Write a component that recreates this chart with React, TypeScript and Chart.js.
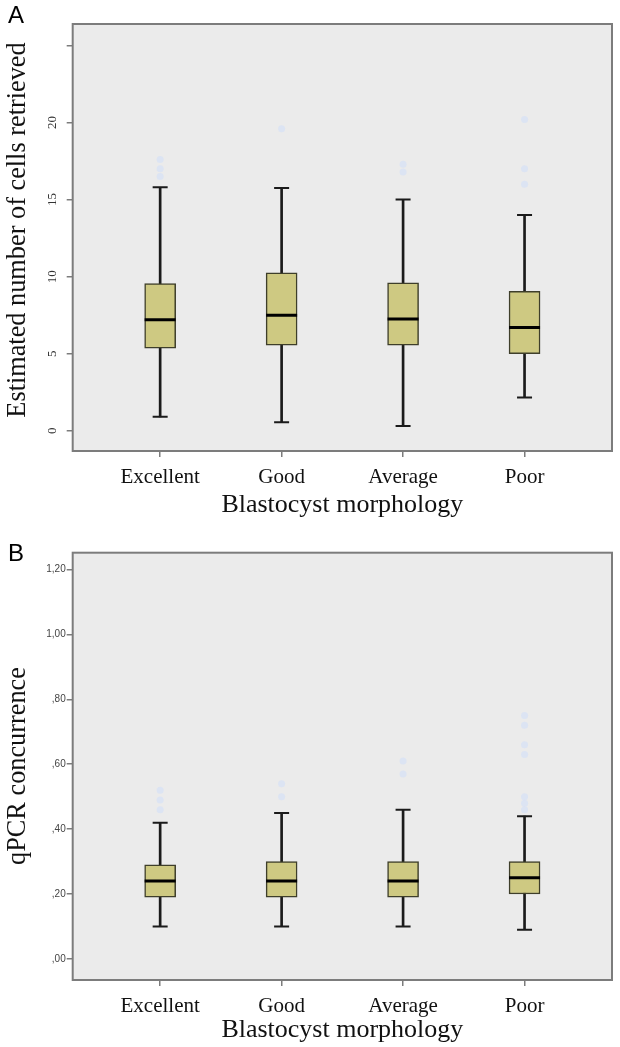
import React, { useEffect, useRef } from 'react';
import { Chart, registerables } from 'chart.js';

Chart.register(...registerables);

// ---------- data ----------
const categories = ['Excellent', 'Good', 'Average', 'Poor'];
const categoryPositions = [0, 1, 2, 3];

// Panel A: Estimated number of cells retrieved
const cellsMin = [0.9, 0.55, 0.3, 2.15];
const cellsQ1 = [5.35, 5.55, 5.55, 5.0];
const cellsMedian = [7.2, 7.5, 7.25, 6.7];
const cellsQ3 = [9.55, 10.25, 9.6, 9.05];
const cellsMax = [15.8, 15.75, 15.0, 14.0];
const cellsOutliers = [[16.5, 17.0, 17.6], [19.6], [16.8, 17.3], [16.0, 17.0, 20.2]];
const cellsTicks = [0, 5, 10, 15, 20, 25];
const cellsTickLabels = ['0', '5', '10', '15', '20', ''];

// Panel B: qPCR concurrence
const qpcrMin = [0.10, 0.10, 0.10, 0.09];
const qpcrQ1 = [0.19, 0.19, 0.19, 0.20];
const qpcrMedian = [0.24, 0.24, 0.24, 0.25];
const qpcrQ3 = [0.29, 0.30, 0.30, 0.30];
const qpcrMax = [0.42, 0.45, 0.46, 0.44];
const qpcrOutliers = [[0.46, 0.49, 0.52], [0.50, 0.54], [0.57, 0.61], [0.46, 0.48, 0.50, 0.63, 0.66, 0.72, 0.75]];
const qpcrTicks = [0, 0.2, 0.4, 0.6, 0.8, 1.0, 1.2];
const qpcrTickLabels = [',00', ',20', ',40', ',60', ',80', '1,00', '1,20'];

const xAxisTitle = 'Blastocyst morphology';

// ---------- helpers ----------
const SERIF = '"Liberation Serif", "Times New Roman", serif';
const SANS = '"Liberation Sans", Arial, sans-serif';

const framePlugin = {
  id: 'frame',
  beforeDraw(chart: any) {
    const { ctx, chartArea: a } = chart;
    ctx.save();
    ctx.fillStyle = '#ebebeb';
    ctx.fillRect(a.left, a.top, a.right - a.left, a.bottom - a.top);
    ctx.restore();
  },
  afterDraw(chart: any, _args: any, opts: any) {
    const { ctx, chartArea: a } = chart;
    ctx.save();
    ctx.strokeStyle = '#7c7c7c';
    ctx.lineWidth = 2;
    ctx.strokeRect(a.left, a.top, a.right - a.left, a.bottom - a.top);

    ctx.fillStyle = '#000';
    ctx.font = `24px ${SANS}`;
    ctx.textAlign = 'left';
    ctx.textBaseline = 'alphabetic';
    ctx.fillText(opts.letter, 8, opts.letterY);
    ctx.restore();

    ctx.save();
    ctx.translate(25, opts.yTitleY);
    ctx.rotate(-Math.PI / 2);
    ctx.font = `26.3px ${SERIF}`;
    ctx.textAlign = 'center';
    ctx.textBaseline = 'alphabetic';
    ctx.fillStyle = '#111';
    ctx.fillText(opts.yTitle, 0, 0);
    ctx.restore();

    if (opts.rotatedLabels) {
      const ys = chart.scales.y;
      ys.ticks.forEach((t: any, i: number) => {
        const label = opts.rotatedLabels[i];
        if (!label) return;
        const py = ys.getPixelForValue(t.value);
        ctx.save();
        ctx.translate(53, py);
        ctx.rotate(-Math.PI / 2);
        ctx.font = `13px ${SERIF}`;
        ctx.textAlign = 'center';
        ctx.textBaseline = 'middle';
        ctx.fillStyle = '#333';
        ctx.fillText(label, 0, 0);
        ctx.restore();
      });
    }
  },
};

type Spec = {
  min: number[]; q1: number[]; median: number[]; q3: number[]; max: number[];
  outliers: number[][];
  yMin: number; yMax: number; ticks: number[]; tickLabels: string[];
  rotated: boolean;
  top: number; xHeight: number; titlePad: number;
  letter: string; letterY: number; yTitle: string; yTitleY: number;
};

function buildConfig(s: Spec): any {
  const boxData = categoryPositions.map((x, i) => ({ x, y: [s.q1[i], s.q3[i]] }));
  const whiskerData = categoryPositions.map((x, i) => ({ x, y: [s.min[i], s.max[i]] }));
  const medianData = categoryPositions.map((x, i) => ({ x, y: s.median[i] }));
  const capData = categoryPositions.flatMap((x, i) => [{ x, y: s.min[i] }, { x, y: s.max[i] }]);
  const outlierData = categoryPositions.flatMap((x, i) => s.outliers[i].map((y) => ({ x, y })));

  const gridOpts = {
    drawOnChartArea: false,
    drawTicks: true,
    tickLength: 6,
    color: '#7c7c7c',
    lineWidth: 1.5,
    offset: false,
  };

  return {
    type: 'bar',
    data: {
      datasets: [
        {
          type: 'bar', data: whiskerData, backgroundColor: '#1a1a1a', borderWidth: 0,
          barThickness: 2, grouped: false, order: 5,
        },
        {
          type: 'bar', data: boxData, backgroundColor: '#cec982', borderColor: '#3e3e2a',
          borderWidth: 1.5, borderSkipped: false, barThickness: 31, grouped: false, order: 4,
        },
        {
          type: 'scatter', data: medianData, pointStyle: 'line', pointRadius: 15.5,
          pointBorderWidth: 3, pointBorderColor: '#000', order: 3,
        },
        {
          type: 'scatter', data: capData, pointStyle: 'line', pointRadius: 7.5,
          pointBorderWidth: 2, pointBorderColor: '#1a1a1a', order: 2,
        },
        {
          type: 'scatter', data: outlierData, pointStyle: 'circle', pointRadius: 3.5,
          pointBorderWidth: 0, pointBackgroundColor: 'rgba(212,225,247,0.65)', order: 1,
        },
      ],
    },
    options: {
      responsive: false,
      animation: false,
      events: [],
      layout: { autoPadding: false, padding: { top: s.top, right: 8, left: 0, bottom: 0 } },
      plugins: {
        legend: { display: false },
        tooltip: { enabled: false },
        frame: { letter: s.letter, letterY: s.letterY, yTitle: s.yTitle, yTitleY: s.yTitleY, rotatedLabels: s.rotated ? s.tickLabels : null },
      },
      scales: {
        x: {
          type: 'linear',
          min: -0.72,
          max: 3.72,
          offset: false,
          grid: gridOpts,
          border: { display: false },
          afterBuildTicks: (scale: any) => { scale.ticks = categoryPositions.map((v) => ({ value: v })); },
          afterFit: (scale: any) => { scale.height = s.xHeight; },
          ticks: {
            autoSkip: false,
            maxRotation: 0,
            padding: 8,
            color: '#111',
            font: { family: SERIF, size: 21 },
            callback: (v: number) => categories[Math.round(v)] ?? '',
          },
          title: {
            display: true,
            text: xAxisTitle,
            color: '#111',
            font: { family: SERIF, size: 26 },
            padding: { top: 0, bottom: s.titlePad },
          },
        },
        y: {
          type: 'linear',
          min: s.yMin,
          max: s.yMax,
          grid: gridOpts,
          border: { display: false },
          afterBuildTicks: (scale: any) => { scale.ticks = s.ticks.map((v) => ({ value: v })); },
          afterFit: (scale: any) => { scale.width = 72.7; },
          ticks: {
            display: !s.rotated,
            padding: 1,
            color: '#444',
            font: { family: SANS, size: 10 },
            callback: (_v: number, i: number) => s.tickLabels[i],
          },
        },
      },
    },
    plugins: [framePlugin],
  };
}

const specA: Spec = {
  min: cellsMin, q1: cellsQ1, median: cellsMedian, q3: cellsQ3, max: cellsMax,
  outliers: cellsOutliers, yMin: -1.32, yMax: 26.4, ticks: cellsTicks, tickLabels: cellsTickLabels,
  rotated: true, top: 24, xHeight: 74, titlePad: 4.4,
  letter: 'A', letterY: 23, yTitle: 'Estimated number of cells retrieved', yTitleY: 230,
};

const specB: Spec = {
  min: qpcrMin, q1: qpcrQ1, median: qpcrMedian, q3: qpcrQ3, max: qpcrMax,
  outliers: qpcrOutliers, yMin: -0.065, yMax: 1.252, ticks: qpcrTicks, tickLabels: qpcrTickLabels,
  rotated: false, top: 27.7, xHeight: 67, titlePad: 0.8,
  letter: 'B', letterY: 36, yTitle: 'qPCR concurrence', yTitleY: 241,
};

export default function App() {
  const refA = useRef<HTMLCanvasElement | null>(null);
  const refB = useRef<HTMLCanvasElement | null>(null);

  useEffect(() => {
    const a = new Chart(refA.current as HTMLCanvasElement, buildConfig(specA));
    const b = new Chart(refB.current as HTMLCanvasElement, buildConfig(specB));
    return () => { a.destroy(); b.destroy(); };
  }, []);

  return (
    <div style={{ position: 'absolute', left: 0, top: 0, width: 620, height: 1047, background: '#fff' }}>
      <canvas ref={refA} width={620} height={525} style={{ display: 'block', width: 620, height: 525 }} />
      <canvas ref={refB} width={620} height={522} style={{ display: 'block', width: 620, height: 522 }} />
    </div>
  );
}
